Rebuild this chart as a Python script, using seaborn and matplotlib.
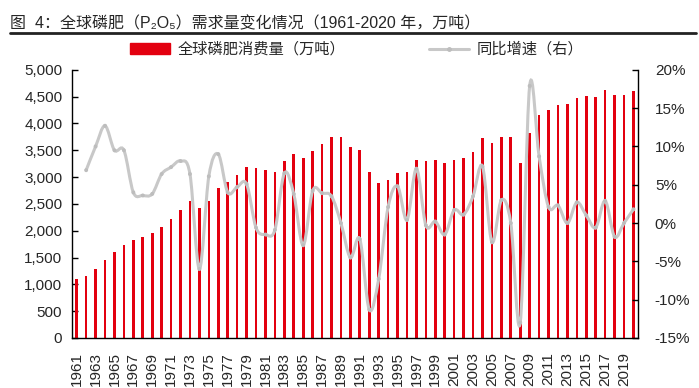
import numpy as np
import pandas as pd
import matplotlib
matplotlib.use("Agg")
import matplotlib.pyplot as plt
import seaborn as sns
from matplotlib.path import Path
from matplotlib.patches import PathPatch, Patch
from matplotlib.lines import Line2D

# 数据（由图读出，单位：万吨 / %）
years = list(range(1961, 2021))
consumption = [1095, 1157, 1293, 1449, 1604, 1735, 1822, 1890, 1959, 2065,
               2220, 2394, 2550, 2420, 2550, 2798, 2904, 3041, 3190, 3172,
               3128, 3103, 3302, 3433, 3352, 3483, 3613, 3744, 3744, 3563,
               3501, 3103, 2886, 2948, 3078, 3103, 3321, 3302, 3321, 3259,
               3321, 3364, 3476, 3725, 3632, 3744, 3744, 3259, 3830, 4160,
               4254, 4341, 4366, 4472, 4515, 4490, 4627, 4540, 4540, 4608]
# 同比增速 1962-2020
growth = [6.9, 10.0, 12.7, 9.5, 9.5, 4.0, 3.6, 3.8, 6.4, 7.3,
          8.1, 6.4, -6.0, 6.1, 9.0, 4.0, 4.7, 5.1, -0.6, -1.5,
          -0.9, 6.5, 3.8, -2.9, 4.2, 3.9, 3.5, 0.0, -4.5, -2.1,
          -11.3, -7.3, 2.1, 4.8, 0.4, 7.1, -0.3, 0.2, -1.5, 1.7,
          1.1, 3.5, 7.4, -2.5, 3.0, 0.0, -13.0, 17.9, 8.7, 2.1,
          2.3, 0.0, 2.7, 1.0, -0.6, 2.9, -1.8, 0.0, 1.8]

bar_color = "#e3000f"
line_color = "#c8c8c8"

sns.set_style("white")
plt.rcParams['font.family'] = ['Liberation Sans', 'Noto Sans CJK SC', 'DejaVu Sans']
plt.rcParams['font.size'] = 11

df = pd.DataFrame({"year": [str(y) for y in years], "value": consumption})

fig = plt.figure(figsize=(6.99, 3.88), dpi=100)
ax = fig.add_axes([0.103, 0.129, 0.810, 0.691])

sns.barplot(data=df, x="year", y="value", color=bar_color, width=0.28,
            saturation=1, linewidth=0, ax=ax)
ax.set_xlim(-0.42, 59.18)
ax.set_ylim(0, 5000)
ax.set_yticks(np.arange(0, 5001, 500))
ax.set_yticklabels([f"{v:,}" for v in range(0, 5001, 500)])
ax.set_xticks(range(0, 60, 2))
ax.set_xticklabels(years[::2], rotation=90)
ax.set_xticks(np.arange(-0.5, 60, 1), minor=True)
ax.tick_params(axis="x", which="major", length=0, pad=10, labelsize=11)
ax.tick_params(axis="x", which="minor", direction="in", length=3, width=1, color="black")
ax.tick_params(axis="y", direction="in", length=4, width=1, pad=7, labelsize=11, color="black")
ax.set_xlabel("")
ax.set_ylabel("")

ax2 = ax.twinx()
ax2.set_ylim(-15, 20)
ax2.set_yticks(range(-15, 21, 5))
ax2.set_yticklabels([f"{v}%" for v in range(-15, 21, 5)])
ax2.tick_params(axis="y", direction="in", length=4, width=1, pad=12, labelsize=11, color="black")

# 平滑曲线（Catmull-Rom -> Bezier）
gx = np.arange(1, 60, dtype=float)
gy = np.array(growth, dtype=float)
pts = np.column_stack([gx, gy])
verts = [pts[0]]
codes = [Path.MOVETO]
n = len(pts)
for i in range(n - 1):
    p0 = pts[i - 1] if i > 0 else pts[i]
    p1 = pts[i]
    p2 = pts[i + 1]
    p3 = pts[i + 2] if i + 2 < n else pts[i + 1]
    c1 = p1 + (p2 - p0) / 6.0
    c2 = p2 - (p3 - p1) / 6.0
    verts += [c1, c2, p2]
    codes += [Path.CURVE4] * 3
ax2.add_patch(PathPatch(Path(verts, codes), facecolor="none", edgecolor=line_color,
                        lw=2.2, zorder=3))
sns.scatterplot(x=gx, y=gy, ax=ax2, color="#bdbdbd", s=8, edgecolor="none", zorder=4)

for a in (ax, ax2):
    a.spines["top"].set_visible(False)
    for s in ("left", "right", "bottom"):
        a.spines[s].set_color("black")
        a.spines[s].set_linewidth(1)
ax.spines["right"].set_visible(False)
ax2.spines["left"].set_visible(False)
ax2.spines["bottom"].set_visible(False)

handles = [Patch(color=bar_color),
           Line2D([0], [0], color=line_color, lw=2.2, marker="o", markersize=2.5,
                  markerfacecolor="#bdbdbd", markeredgecolor="#bdbdbd")]
fig.legend(handles, ["全球磷肥消费量（万吨）", "同比增速（右）"], loc="center",
           bbox_to_anchor=(0.51, 0.872), ncol=2, frameon=False, fontsize=11,
           handlelength=2.6, columnspacing=5.5, handletextpad=0.5)

fig.text(0.014, 0.94, "图  4：全球磷肥（P₂O₅）需求量变化情况（1961-2020 年，万吨）",
         fontsize=11.5, va="center", ha="left")
fig.add_artist(Line2D([0.014, 0.995], [0.914, 0.914], color="#222222", lw=2,
                      transform=fig.transFigure))

fig.savefig("out.png", dpi=100)
